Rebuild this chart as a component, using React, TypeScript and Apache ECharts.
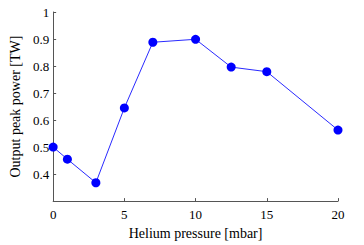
import React, { useEffect, useRef } from "react";
import * as echarts from "echarts";

const pressures = [0, 1, 3, 5, 7, 10, 12.5, 15, 20];
const peakPower = [0.5, 0.455, 0.368, 0.645, 0.888, 0.899, 0.796, 0.779, 0.563];

export default function App() {
  const ref = useRef<HTMLDivElement>(null);
  useEffect(() => {
    const chart = echarts.init(ref.current!, null, { renderer: "svg" });
    const font = "Liberation Serif";
    chart.setOption({
      animation: false,
      backgroundColor: "#ffffff",
      textStyle: { fontFamily: font },
      grid: { left: 46, right: 26, top: 12, bottom: 35.5, containLabel: false },
      xAxis: {
        type: "value",
        min: 0,
        max: 20,
        interval: 5,
        name: "Helium pressure [mbar]",
        nameLocation: "middle",
        nameGap: 19,
        nameTextStyle: { color: "#000", fontFamily: font, fontSize: 14 },
        axisLine: { show: true, lineStyle: { color: "#555", width: 1 } },
        axisTick: { show: true, inside: true, length: 3, lineStyle: { color: "#555" } },
        axisLabel: { color: "#000", fontFamily: font, fontSize: 13, margin: 7 },
        splitLine: { show: false },
      },
      yAxis: {
        type: "value",
        min: 0.3,
        max: 1,
        interval: 0.1,
        name: "Output peak power [TW]",
        nameLocation: "middle",
        nameGap: 27,
        nameTextStyle: { color: "#000", fontFamily: font, fontSize: 14 },
        axisLine: { show: true, lineStyle: { color: "#555", width: 1 } },
        axisTick: { show: true, inside: true, length: 3, lineStyle: { color: "#555" } },
        axisLabel: {
          color: "#000",
          fontFamily: font,
          fontSize: 13,
          margin: 4,
          formatter: (v: number) => {
            const r = Math.round(v * 10) / 10;
            if (Math.abs(r - 0.3) < 1e-6) return "";
            if (Math.abs(r - 1) < 1e-6) return "1";
            return r.toFixed(1);
          },
        },
        splitLine: { show: false },
      },
      series: [
        {
          type: "line",
          data: pressures.map((p, i) => [p, peakPower[i]]),
          symbol: "circle",
          symbolSize: 9,
          lineStyle: { color: "#2a2aff", width: 1 },
          itemStyle: { color: "#0000ff", borderWidth: 0 },
          clip: false,
        },
      ],
    });
    return () => chart.dispose();
  }, []);
  return (
    <div
      ref={ref}
      style={{ width: 364, height: 245, position: "absolute", left: 0, top: 0 }}
    />
  );
}
